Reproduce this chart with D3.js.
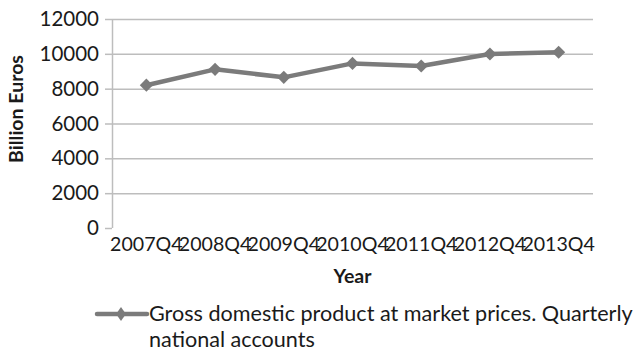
<!DOCTYPE html>
<html>
<head>
<meta charset="utf-8">
<script src="https://cdn.jsdelivr.net/npm/d3@7"></script>
<style>
  html, body { margin: 0; padding: 0; background: #fff; }
  svg { display: block; font-family: Lato, "Open Sans", sans-serif; }
</style>
</head>
<body>
<script>
// Quarterly GDP, euro area, billion euros
const categories = ["2007Q4", "2008Q4", "2009Q4", "2010Q4", "2011Q4", "2012Q4", "2013Q4"];
const gdpValues = [8200, 9110, 8650, 9450, 9300, 9990, 10090];
const yTicks = [0, 2000, 4000, 6000, 8000, 10000, 12000];
const seriesName = ["Gross domestic product at market prices. Quarterly", "national accounts"];

const W = 638, H = 351;
const plot = { left: 112, right: 593, top: 19, bottom: 228 };
const lineColor = "#7b7b7b";
const gridColor = "#bdbdbd";
const textColor = "#1a1a1a";

const svg = d3.select("body").append("svg")
  .attr("width", W).attr("height", H);

svg.append("rect").attr("width", W).attr("height", H).attr("fill", "#fff");

const x = d3.scalePoint().domain(categories)
  .range([plot.left, plot.right]).padding(0.5);
const y = d3.scaleLinear().domain([0, 12000]).range([plot.bottom, plot.top]);

// Horizontal gridlines with their ticks on the value axis
const yAxis = d3.axisLeft(y).tickValues(yTicks)
  .tickSize(7).tickFormat(d => d).tickPadding(6);
const gy = svg.append("g").attr("transform", `translate(${plot.left},0)`).call(yAxis);
gy.select(".domain").attr("stroke", gridColor).attr("stroke-width", 1.5)
  .attr("d", `M0.5,${plot.top}V${plot.bottom}`);
gy.selectAll(".tick line").attr("stroke", gridColor).attr("stroke-width", 1.5);
gy.selectAll(".tick").filter(d => d > 0).append("line")
  .attr("x1", 0).attr("x2", plot.right - plot.left)
  .attr("stroke", gridColor).attr("stroke-width", 1.5);
gy.selectAll(".tick text").attr("fill", textColor)
  .style("font-size", "20.5px").style("font-family", "Lato, sans-serif");

// Category labels under the plot
svg.append("g").selectAll("text").data(categories).join("text")
  .attr("x", d => x(d)).attr("y", 251)
  .attr("text-anchor", "middle")
  .attr("fill", textColor)
  .style("font-size", "19.6px")
  .text(d => d);

// Axis titles
svg.append("text")
  .attr("x", (plot.left + plot.right) / 2).attr("y", 283)
  .attr("text-anchor", "middle")
  .attr("fill", textColor)
  .style("font-size", "19.5px").style("font-weight", "bold")
  .text("Year");

svg.append("text")
  .attr("transform", "translate(23,109) rotate(-90)")
  .attr("text-anchor", "middle")
  .attr("fill", textColor)
  .style("font-size", "19.5px").style("font-weight", "bold")
  .text("Billion Euros");

// Data line and diamond markers
const line = d3.line().x((d, i) => x(categories[i])).y(d => y(d));
svg.append("path").datum(gdpValues)
  .attr("d", line)
  .attr("fill", "none").attr("stroke", lineColor)
  .attr("stroke-width", 4.5).attr("stroke-linejoin", "round");

const diamond = d3.symbol().type(d3.symbolDiamond2).size(110);
svg.append("g").selectAll("path").data(gdpValues).join("path")
  .attr("transform", (d, i) => `translate(${x(categories[i])},${y(d)})`)
  .attr("d", diamond)
  .attr("fill", lineColor);

// Legend
const legend = svg.append("g");
legend.append("line")
  .attr("x1", 97).attr("x2", 147).attr("y1", 314).attr("y2", 314)
  .attr("stroke", lineColor).attr("stroke-width", 4.5).attr("stroke-linecap", "round");
legend.append("path")
  .attr("transform", "translate(121,314) scale(0.75,1.05)")
  .attr("d", diamond)
  .attr("fill", lineColor);
legend.append("text")
  .attr("x", 149).attr("y", 321)
  .attr("fill", textColor)
  .style("font-size", "21.6px")
  .selectAll("tspan").data(seriesName).join("tspan")
  .attr("x", 149).attr("dy", (d, i) => i === 0 ? 0 : 26)
  .text(d => d);
</script>
</body>
</html>
